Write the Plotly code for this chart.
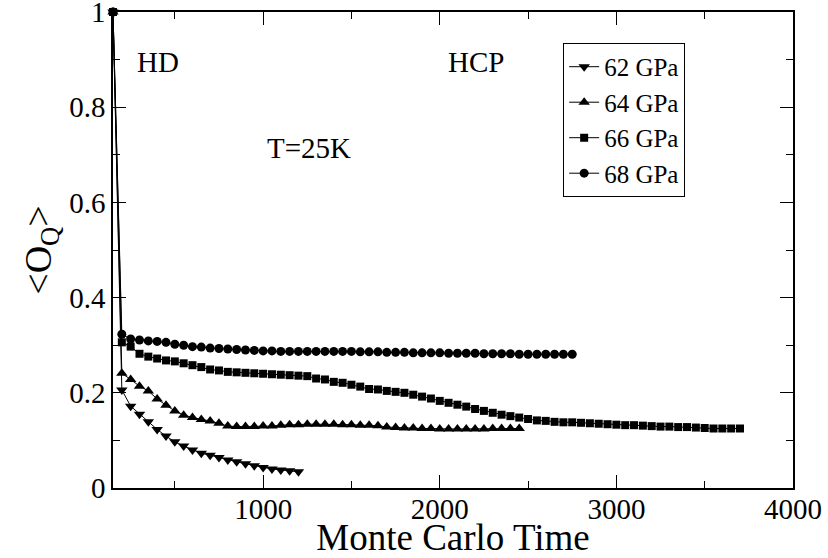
import plotly.graph_objects as go

# ---- data ----
t0 = [150]
v0 = [1.0]
steps = list(range(200, 3701, 50))  # Monte Carlo sampling times

y62 = [0.206, 0.172, 0.155, 0.139, 0.123, 0.109, 0.097, 0.088, 0.080, 0.073, 0.069,
       0.064, 0.059, 0.055, 0.051, 0.047, 0.043, 0.040, 0.038, 0.036, 0.034]

y64 = [0.241, 0.228, 0.214, 0.204, 0.187, 0.174, 0.162, 0.153, 0.148, 0.144, 0.141,
       0.136, 0.130, 0.129, 0.129, 0.129, 0.130, 0.130, 0.132, 0.133, 0.133,
       0.134, 0.134, 0.134, 0.134, 0.133, 0.133, 0.132, 0.132, 0.131, 0.128, 0.127,
       0.126, 0.126, 0.125, 0.125, 0.124, 0.124, 0.124, 0.124, 0.124, 0.124, 0.125,
       0.125, 0.125, 0.125]

y66 = [0.306, 0.297, 0.282, 0.276, 0.272, 0.268, 0.266, 0.262, 0.258, 0.254, 0.249,
       0.247, 0.244, 0.243, 0.242, 0.241, 0.240, 0.239, 0.238, 0.237, 0.236, 0.235,
       0.230, 0.228, 0.223, 0.221, 0.217, 0.213, 0.208, 0.207, 0.204, 0.202, 0.200,
       0.196, 0.192, 0.188, 0.183, 0.179, 0.175, 0.171, 0.166, 0.162, 0.158,
       0.154, 0.151, 0.148, 0.145, 0.142, 0.141, 0.139, 0.138, 0.138, 0.137, 0.136,
       0.135, 0.134, 0.133, 0.132, 0.132, 0.131, 0.130, 0.129, 0.129, 0.128, 0.128,
       0.127, 0.126, 0.125, 0.125, 0.125, 0.125]

y68 = [0.323, 0.313, 0.311, 0.309, 0.308, 0.306, 0.302, 0.300, 0.297, 0.296, 0.294,
       0.293, 0.292, 0.291, 0.290, 0.289, 0.288,
       0.288, 0.287, 0.287, 0.287, 0.287, 0.287, 0.287, 0.287, 0.287, 0.287, 0.286,
       0.286, 0.286, 0.285, 0.285, 0.285, 0.284, 0.284, 0.284, 0.284, 0.283, 0.283,
       0.283, 0.283, 0.282, 0.282, 0.282, 0.282, 0.281, 0.281, 0.281, 0.281, 0.281,
       0.281, 0.281]

names = ["62 GPa", "64 GPa", "66 GPa", "68 GPa"]
series = [y62, y64, y66, y68]
symbols = ["triangle-down", "triangle-up", "square", "circle"]
sizes = [10, 10, 8, 9]

x_ticks = [1000, 2000, 3000, 4000]
y_ticks = [0, 0.2, 0.4, 0.6, 0.8, 1.0]
y_ticklabels = ["0", "0.2", "0.4", "0.6", "0.8", "1"]

FONT = "Liberation Serif"

fig = go.Figure()
for name, ys, sym, sz in zip(names, series, symbols, sizes):
    fig.add_trace(go.Scatter(
        x=t0 + steps[:len(ys)], y=v0 + ys, name=name, mode="lines+markers",
        line=dict(color="black", width=1),
        marker=dict(symbol=sym, size=sz, color="black"),
        cliponaxis=False,
    ))

axis_common = dict(
    showline=True, linecolor="black", linewidth=1.5, mirror="allticks",
    ticks="inside", ticklen=13, tickwidth=1, tickcolor="black",
    showgrid=False, zeroline=False,
    tickfont=dict(family=FONT, size=29, color="black"),
    ticklabeloverflow="allow",
)

fig.update_xaxes(
    range=[150, 4000], tickvals=x_ticks,
    minor=dict(ticks="inside", ticklen=7, dtick=500, tick0=0, tickcolor="black", showgrid=False),
    title=dict(text="Monte Carlo Time", font=dict(family=FONT, size=37, color="black"), standoff=0),
    ticklabelstandoff=-6,
    automargin=False,
    **axis_common,
)
fig.update_yaxes(
    range=[0, 1], tickvals=y_ticks, ticktext=y_ticklabels,
    minor=dict(ticks="inside", ticklen=7, dtick=0.1, tick0=0, tickcolor="black", showgrid=False),
    title=dict(text="&lt;O<sub>Q</sub>&gt;", font=dict(family=FONT, size=38, color="black"), standoff=6),
    automargin=False,
    **axis_common,
)

ann_font = dict(family=FONT, size=29, color="black")
fig.add_annotation(x=405, y=0.895, text="HD", showarrow=False, font=ann_font)
fig.add_annotation(x=2204, y=0.895, text="HCP", showarrow=False, font=ann_font)
fig.add_annotation(x=1259, y=0.714, text="T=25K", showarrow=False, font=ann_font)

fig.update_layout(
    width=828, height=558,
    margin=dict(l=113, r=35, t=12, b=70),
    paper_bgcolor="white", plot_bgcolor="white",
    showlegend=True,
    legend=dict(
        x=0.662, y=0.935, xanchor="left", yanchor="top",
        bordercolor="black", borderwidth=1, bgcolor="white",
        font=dict(family=FONT, size=25, color="black"),
        itemwidth=30, tracegroupgap=0,
    ),
)

fig.write_html("out.html")
